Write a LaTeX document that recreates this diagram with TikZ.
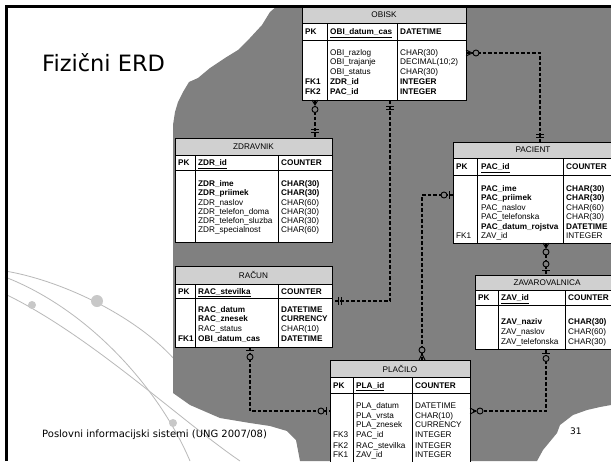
\documentclass[tikz,border=0pt]{standalone}
\usepackage{fontspec}
\setmainfont{DejaVu Sans}
\newfontfamily\arialf{Liberation Sans}
\definecolor{bggray}{RGB}{128,128,128}
\definecolor{hdrgray}{RGB}{208,208,208}
\definecolor{arcgray}{RGB}{185,185,185}
\definecolor{dotgray}{RGB}{200,200,200}
\newcommand\erdfont{\arialf\fontsize{8.2}{9.5}\selectfont}
\tikzset{
  tbox/.style={draw=black, line width=0.8pt, fill=white, anchor=north west, inner sep=0pt, outer sep=0pt},
  tline/.style={draw=black, line width=0.8pt},
  cell/.style={anchor=base west, inner sep=0pt, font=\erdfont},
  hcell/.style={anchor=center, inner sep=0pt, font=\erdfont},
  conn/.style={line width=1.6pt, dash pattern=on 3.5pt off 2pt},
  mk/.style={line width=0.9pt},
  ring/.style={draw=black, line width=0.9pt, fill=bggray},
  arcline/.style={draw=arcgray, line width=0.8pt}
}
\newcommand\erdbox[9]{%
  \node[tbox, minimum width={#4pt-#2pt}, minimum height={#7pt-#3pt}] (#1) at (#2,#3) {};
  \fill[hdrgray] (#2,#3) rectangle (#4,#5);
  \draw[tline] (#2,#5) -- (#4,#5) (#2,#6) -- (#4,#6) (#8,#5) -- (#8,#7) (#9,#5) -- (#9,#7) (#2,#3) rectangle (#4,#7);
}
\newcommand\erow[5]{\node[cell] (#1a) at (\xa,#2) {#3};\node[cell] (#1b) at (\xb,#2) {#4};\node[cell] (#1c) at (\xc,#2) {#5};}
\newcommand\erowb[4]{\node[cell] (#1b) at (\xb,#2) {#3};\node[cell] (#1c) at (\xc,#2) {#4};}
\begin{document}
\begin{tikzpicture}[x=1pt,y=-1pt]
\useasboundingbox (0,0) rectangle (611,461);
\fill[white] (0,0) rectangle (611,461);
% decorative arcs
\draw[arcline] (5,271) .. controls (60,280) and (135,315) .. (175,360);
\draw[arcline] (5,277) .. controls (90,310) and (160,390) .. (190,461);
\draw[arcline] (5,294) .. controls (90,335) and (180,420) .. (240,461);
\fill[dotgray] (97,301) circle (6pt);
\fill[dotgray] (32,305) circle (4pt);
\fill[dotgray] (173,423) circle (4pt);
% gray background blob
\fill[bggray] (277,6) -- (270,12) -- (262,25) -- (250,38) -- (238,50) -- (225,58) -- (210,68) -- (198,78) -- (189,82) -- (183,92) -- (178,102) -- (175,112) -- (173,125) -- (173,393) -- (190,405) -- (220,418) -- (250,423) -- (270,426) -- (287,431) -- (296,440) -- (300,461) -- (537,461) -- (543,450) -- (557,433) -- (560,425) -- (573,415) -- (587,410) -- (600,407) -- (611,405) -- (611,6) -- cycle;
% texts
\node[anchor=base west, inner sep=0pt, font=\fontsize{22.5}{27}\selectfont] (title) at (42,71) {Fizični ERD};
\node[anchor=base west, inner sep=0pt, font=\fontsize{10}{12}\selectfont] (footer) at (42,437) {Poslovni informacijski sistemi (UNG 2007/08)};
\node[anchor=base west, inner sep=0pt, font=\fontsize{9}{11}\selectfont] (pagenum) at (570,434) {31};
% OBISK
\erdbox{obisk}{302}{6}{466}{23}{40}{100}{327}{397}
\node[hcell] (obiskt) at (384,14.5) {OBISK};
\def\xa{305}\def\xb{330}\def\xc{400}
\erow{o0}{34.5}{\bfseries PK}{\bfseries\underline{OBI\_datum\_cas}}{\bfseries DATETIME}
\erowb{o1}{55}{OBI\_razlog}{CHAR(30)}
\erowb{o2}{64.5}{OBI\_trajanje}{DECIMAL(10;2)}
\erowb{o3}{74}{OBI\_status}{CHAR(30)}
\erow{o4}{84.5}{\bfseries FK1}{\bfseries ZDR\_id}{\bfseries INTEGER}
\erow{o5}{94}{\bfseries FK2}{\bfseries PAC\_id}{\bfseries INTEGER}
% ZDRAVNIK
\erdbox{zdr}{175}{138}{332}{155}{170}{242}{195}{278}
\node[hcell] (zdrt) at (253.5,146.5) {ZDRAVNIK};
\def\xa{178}\def\xb{198}\def\xc{281}
\erow{z0}{165.5}{\bfseries PK}{\bfseries\underline{ZDR\_id}}{\bfseries COUNTER}
\erowb{z1}{186}{\bfseries ZDR\_ime}{\bfseries CHAR(30)}
\erowb{z2}{195}{\bfseries ZDR\_priimek}{\bfseries CHAR(30)}
\erowb{z3}{205}{ZDR\_naslov}{CHAR(60)}
\erowb{z4}{214}{ZDR\_telefon\_doma}{CHAR(30)}
\erowb{z5}{223}{ZDR\_telefon\_sluzba}{CHAR(30)}
\erowb{z6}{232}{ZDR\_specialnost}{CHAR(60)}
% PACIENT
\erdbox{pac}{453}{142}{613}{158}{175}{243}{477}{563}
\node[hcell] (pact) at (533,150) {PACIENT};
\def\xa{456}\def\xb{481}\def\xc{566}
\erow{p0}{169.5}{\bfseries PK}{\bfseries\underline{PAC\_id}}{\bfseries COUNTER}
\erowb{p1}{191}{\bfseries PAC\_ime}{\bfseries CHAR(30)}
\erowb{p2}{200}{\bfseries PAC\_priimek}{\bfseries CHAR(30)}
\erowb{p3}{210}{PAC\_naslov}{CHAR(60)}
\erowb{p4}{219}{PAC\_telefonska}{CHAR(30)}
\erowb{p5}{229}{\bfseries PAC\_datum\_rojstva}{\bfseries DATETIME}
\erow{p6}{238}{FK1}{ZAV\_id}{INTEGER}
% RACUN
\erdbox{rac}{175}{266}{332}{284}{298}{347}{195}{278}
\node[hcell] (ract) at (253.5,275) {RAČUN};
\def\xa{178}\def\xb{198}\def\xc{281}
\erow{r0}{294}{\bfseries PK}{\bfseries\underline{RAC\_stevilka}}{\bfseries COUNTER}
\erowb{r1}{312}{\bfseries RAC\_datum}{\bfseries DATETIME}
\erowb{r2}{321.5}{\bfseries RAC\_znesek}{\bfseries CURRENCY}
\erowb{r3}{331}{RAC\_status}{CHAR(10)}
\erow{r4}{341}{\bfseries FK1}{\bfseries OBI\_datum\_cas}{\bfseries DATETIME}
% ZAVAROVALNICA
\erdbox{zav}{475}{275}{619}{290}{305}{349}{498}{565}
\node[hcell] (zavt) at (547,282.5) {ZAVAROVALNICA};
\def\xa{478}\def\xb{501}\def\xc{568}
\erow{v0}{300.5}{\bfseries PK}{\bfseries\underline{ZAV\_id}}{\bfseries COUNTER}
\erowb{v1}{324}{\bfseries ZAV\_naziv}{\bfseries CHAR(30)}
\erowb{v2}{334}{ZAV\_naslov}{CHAR(60)}
\erowb{v3}{344}{ZAV\_telefonska}{CHAR(30)}
% PLACILO
\erdbox{pla}{330}{360}{470}{377}{393}{475}{353}{412}
\node[hcell] (plat) at (400,368.5) {PLAČILO};
\def\xa{333}\def\xb{356}\def\xc{415}
\erow{l0}{388}{\bfseries PK}{\bfseries\underline{PLA\_id}}{\bfseries COUNTER}
\erowb{l1}{408}{PLA\_datum}{DATETIME}
\erowb{l2}{418}{PLA\_vrsta}{CHAR(10)}
\erowb{l3}{427}{PLA\_znesek}{CURRENCY}
\erow{l4}{437}{FK3}{PAC\_id}{INTEGER}
\erow{l5}{448}{FK2}{RAC\_stevilka}{INTEGER}
\erow{l6}{457}{FK1}{ZAV\_id}{INTEGER}
% connectors
\coordinate (k1) at (540,53);
\draw[conn] (obisk.east |- k1) -- (k1) -- (pac.north -| k1);
\draw[mk] (466,50) -- (472,53) -- (466,56);
\draw[ring] (476,53) circle (3pt);
\draw[mk] (536,134) -- (544,134) (536,137) -- (544,137);
\coordinate (k2) at (315,0);
\draw[conn] (obisk.south -| k2) -- (zdr.north -| k2);
\draw[mk] (312,100) -- (315,105) -- (318,100);
\draw[ring] (315,109.5) circle (3pt);
\draw[mk] (311,129) -- (319,129) (311,132) -- (319,132);
\coordinate (k3) at (390,301);
\draw[conn] (obisk.south -| k3) -- (k3) -- (rac.east |- k3);
\draw[mk] (386,106) -- (394,106) (386,109) -- (394,109);
\draw[mk] (338,297) -- (338,305) (341,297) -- (341,305);
\coordinate (k4) at (422,195);
\draw[conn] (pac.west |- k4) -- (k4) -- (pla.north -| k4);
\draw[mk] (449,191) -- (449,199);
\draw[ring] (444,195) circle (3pt);
\draw[mk] (419,360) -- (422,354) -- (425,360);
\draw[ring] (422,350) circle (3pt);
\coordinate (k5) at (546,411);
\draw[conn] (zav.south -| k5) -- (k5) -- (pla.east |- k5);
\draw[mk] (542,353) -- (550,353);
\draw[ring] (546,358.5) circle (3pt);
\draw[mk] (470,408) -- (476,411) -- (470,414);
\draw[ring] (480,411) circle (3pt);
\coordinate (k6) at (250,411);
\draw[conn] (rac.south -| k6) -- (k6) -- (pla.west |- k6);
\draw[mk] (246,350.5) -- (254,350.5);
\draw[ring] (250,357) circle (3pt);
\draw[mk] (326,407) -- (326,415);
\draw[ring] (321,411) circle (3pt);
\coordinate (k7) at (546,0);
\draw[conn] (pac.south -| k7) -- (zav.north -| k7);
\draw[mk] (543,243) -- (546,248) -- (549,243);
\draw[ring] (546,252) circle (3pt);
\draw[ring] (546,264) circle (3pt);
\draw[mk] (542,270) -- (550,270);
% frame
\draw[line width=2.5pt] (6.5,461) -- (6.5,6.5) -- (611,6.5);
\end{tikzpicture}
\end{document}
